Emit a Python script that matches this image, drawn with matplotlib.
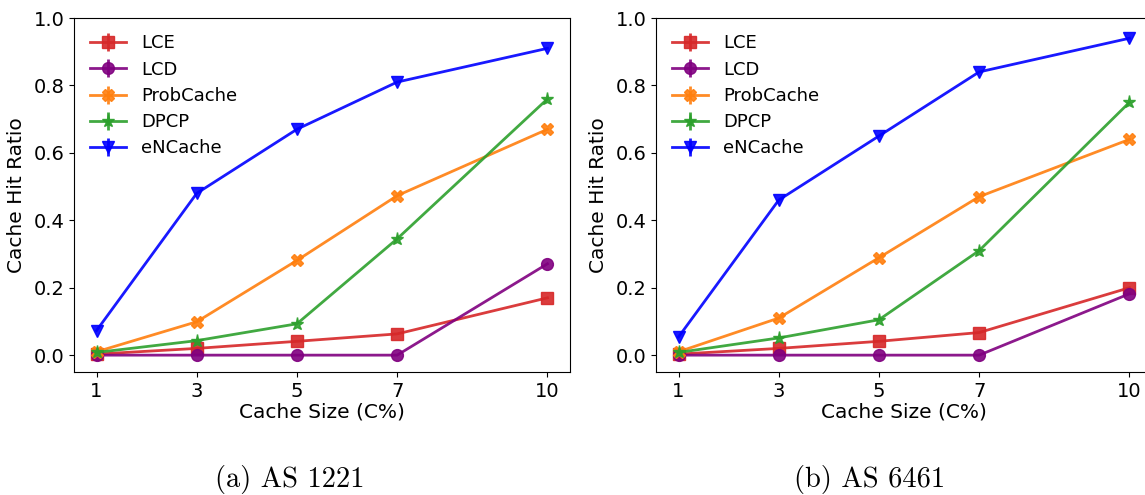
import matplotlib
matplotlib.use("Agg")
import matplotlib.pyplot as plt

cache_sizes = [1, 3, 5, 7, 10]
series_names = ["LCE", "LCD", "ProbCache", "DPCP", "eNCache"]

as1221_lce = [0.003, 0.020, 0.041, 0.063, 0.170]
as1221_lcd = [0.0, 0.0, 0.0, 0.0, 0.271]
as1221_prob = [0.010, 0.099, 0.281, 0.473, 0.670]
as1221_dpcp = [0.008, 0.043, 0.093, 0.345, 0.760]
as1221_encache = [0.073, 0.480, 0.670, 0.810, 0.910]

as6461_lce = [0.003, 0.020, 0.041, 0.067, 0.200]
as6461_lcd = [0.0, 0.0, 0.0, 0.0, 0.182]
as6461_prob = [0.010, 0.110, 0.289, 0.470, 0.640]
as6461_dpcp = [0.008, 0.051, 0.105, 0.310, 0.750]
as6461_encache = [0.054, 0.460, 0.650, 0.840, 0.940]

captions = ["(a) AS 1221", "(b) AS 6461"]

colors = ["#d62728", "purple", "#ff7f0e", "#2ca02c", "blue"]
markers = ["s", "o", "X", "*", "v"]
msizes = [8.5, 8.5, 8.5, 9.5, 9]

W, H = 1145, 495
fig = plt.figure(figsize=(W / 100, H / 100), dpi=100)

def axrect(x0, y0, x1, y1):
    return [x0 / W, 1 - y1 / H, (x1 - x0) / W, (y1 - y0) / H]

ax1 = fig.add_axes(axrect(74, 18, 570, 372))
ax2 = fig.add_axes(axrect(656, 18, 1152, 372))

datasets = [
    [as1221_lce, as1221_lcd, as1221_prob, as1221_dpcp, as1221_encache],
    [as6461_lce, as6461_lcd, as6461_prob, as6461_dpcp, as6461_encache],
]

for ax, data in zip([ax1, ax2], datasets):
    for name, ys, c, m, ms in zip(series_names, data, colors, markers, msizes):
        ax.errorbar(cache_sizes, ys, yerr=[0] * len(ys), color=c, marker=m,
                    markersize=ms, linewidth=2, alpha=0.9, label=name,
                    elinewidth=2, capsize=0)
    ax.set_xlim(0.55, 10.45)
    ax.set_ylim(-0.05, 1.0)
    ax.set_xticks(cache_sizes)
    ax.set_yticks([0.0, 0.2, 0.4, 0.6, 0.8, 1.0])
    ax.tick_params(labelsize=14)
    ax.set_xlabel("Cache Size (C%)", fontsize=14.5, labelpad=1)
    ax.set_ylabel("Cache Hit Ratio", fontsize=14.5, labelpad=5)
    ax.legend(loc="upper left", frameon=False, fontsize=13,
              bbox_to_anchor=(0.0, 1.0), handlelength=2.0,
              labelspacing=0.46)

fig.text(290 / W, 1 - 479 / H, captions[0], fontfamily="cmr10",
         fontsize=20.5, ha="center", va="center")
fig.text(870 / W, 1 - 479 / H, captions[1], fontfamily="cmr10",
         fontsize=20.5, ha="center", va="center")

fig.savefig("out.png", dpi=100)
